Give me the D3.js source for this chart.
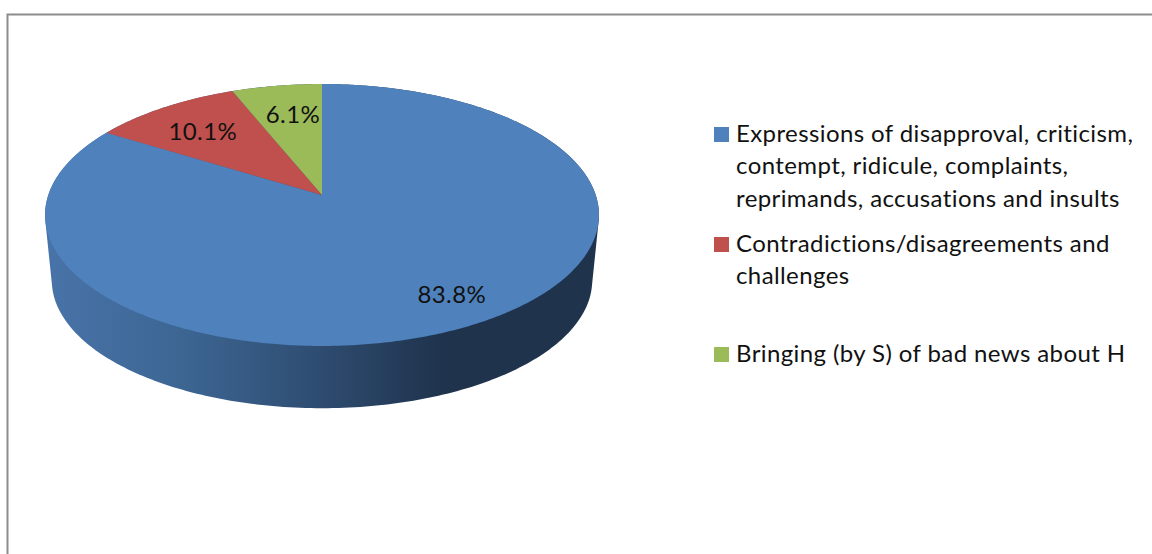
<!DOCTYPE html>
<html>
<head>
<meta charset="utf-8">
<script src="https://cdn.jsdelivr.net/npm/d3@7"></script>
<style>
  html, body { margin: 0; padding: 0; background: #fff; overflow: hidden; }
  svg { display: block; }
  text { font-family: Lato, "Open Sans", sans-serif; fill: #111; font-variant-ligatures: none; letter-spacing: 0.4px; }
</style>
</head>
<body>
<svg id="chart" width="1152" height="554"></svg>
<script>
// chart data
var categories = ['Expressions', 'Contradictions', 'Bad news'];
var values = [83.8, 10.1, 6.1];
var valueLabels = ['83.8%', '10.1%', '6.1%'];
var colors = ['#4f81bd', '#c0504d', '#9bbb59'];
var legendLines = [
  ['Expressions of disapproval, criticism,', 'contempt, ridicule, complaints,', 'reprimands, accusations and insults'],
  ['Contradictions/disagreements and', 'challenges'],
  ['Bringing (by S) of bad news about H']
];

var width = 1152, height = 554;
var svg = d3.select('#chart');

// grey frame, only top and left edges are inside the picture
svg.append('path')
  .attr('d', 'M7.5,' + height + 'V14.5H' + width)
  .attr('fill', 'none')
  .attr('stroke', '#8c8c8c')
  .attr('stroke-width', 2);

// perspective disc: maps a point of the unit circle on the screen
var persp = 0.1527;
function disc(cx, cy, sx, sy) {
  return function(angle, r) {
    var u = Math.sin(angle) * r, v = Math.cos(angle) * r;
    var w = 1 + persp * v;
    return [cx + sx * u / w, cy - sy * v / w];
  };
}
var top_ = disc(322, 195, 273.7, 127.9);
var bottom = disc(322, 261, 267, 124.7);

var circle = d3.range(0, 360, 1).map(function(d) { return d * Math.PI / 180; });
var line = d3.line();

var defs = svg.append('defs');
var wallGrad = defs.append('linearGradient')
  .attr('id', 'wall')
  .attr('gradientUnits', 'userSpaceOnUse')
  .attr('x1', 52).attr('x2', 592).attr('y1', 0).attr('y2', 0);
[[0, '#4873a8'], [0.25, '#3c6592'], [0.5, '#2e4c70'], [0.72, '#1f334d'], [1, '#1f334d']].forEach(function(s) {
  wallGrad.append('stop').attr('offset', s[0]).attr('stop-color', s[1]);
});

// the side wall is the hull of top and bottom rims
var hull = d3.polygonHull(
  circle.map(function(a) { return top_(a, 1); })
    .concat(circle.map(function(a) { return bottom(a, 1); }))
);
svg.append('path')
  .attr('d', line(hull) + 'Z')
  .attr('fill', 'url(#wall)');

// slices run clockwise from 12 o'clock
var arcs = d3.pie().sort(null)(values);

svg.selectAll('path.slice')
  .data(arcs)
  .enter()
  .append('path')
  .attr('class', 'slice')
  .attr('fill', function(d, i) { return colors[i]; })
  .attr('d', function(d) {
    var steps = Math.ceil((d.endAngle - d.startAngle) / 0.01);
    var pts = d3.range(steps + 1).map(function(i) {
      return top_(d.startAngle + (d.endAngle - d.startAngle) * i / steps, 1);
    });
    pts.unshift(top_(0, 0));
    return line(pts) + 'Z';
  });

// value labels sit inside the slices
var labelRadius = [0.79, 0.7, 0.7];
var labelNudge = [[12, 1], [-5, 0], [4, 0]];
svg.selectAll('text.value')
  .data(arcs)
  .enter()
  .append('text')
  .attr('class', 'value')
  .attr('text-anchor', 'middle')
  .attr('font-size', 24)
  .attr('x', function(d, i) { return top_((d.startAngle + d.endAngle) / 2, labelRadius[i])[0] + labelNudge[i][0]; })
  .attr('y', function(d, i) { return top_((d.startAngle + d.endAngle) / 2, labelRadius[i])[1] + labelNudge[i][1] + 8; })
  .text(function(d, i) { return valueLabels[i]; });

// legend
var legendY = d3.scalePoint().domain(categories).range([142, 362]);
var legend = svg.selectAll('g.legend')
  .data(categories)
  .enter()
  .append('g')
  .attr('class', 'legend')
  .attr('transform', function(d) { return 'translate(714,' + legendY(d) + ')'; });

legend.append('rect')
  .attr('y', -15)
  .attr('width', 15)
  .attr('height', 15)
  .attr('fill', function(d, i) { return colors[i]; });

legend.each(function(d, i) {
  d3.select(this).selectAll('text')
    .data(legendLines[i])
    .enter()
    .append('text')
    .attr('x', 22)
    .attr('y', function(t, j) { return j * 32.3; })
    .attr('font-size', 24)
    .text(function(t) { return t; });
});
</script>
</body>
</html>
